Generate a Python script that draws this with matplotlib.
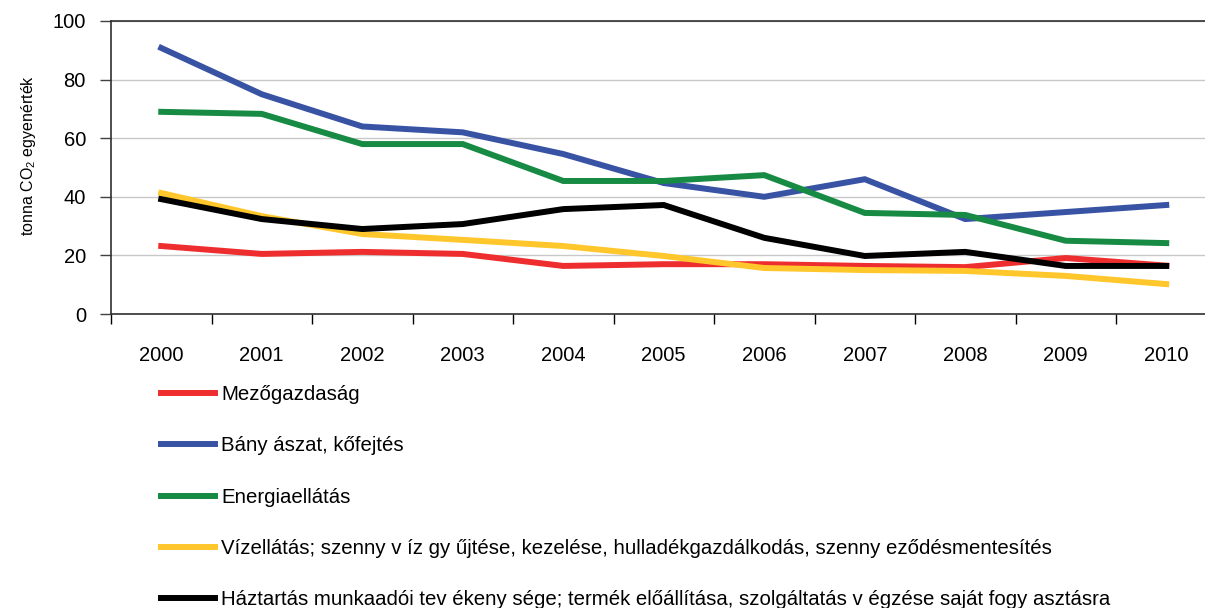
import matplotlib
matplotlib.use("Agg")
import matplotlib.pyplot as plt
import numpy as np

plt.rcParams['font.family'] = ['Liberation Sans', 'DejaVu Sans']
plt.rcParams['mathtext.fontset'] = 'custom'
plt.rcParams['mathtext.rm'] = 'Liberation Sans'
plt.rcParams['mathtext.it'] = 'Liberation Sans'

years = ["2000", "2001", "2002", "2003", "2004", "2005", "2006", "2007", "2008", "2009", "2010"]
mezogazdasag = [23.2, 20.5, 21.2, 20.5, 16.4, 17.0, 17.0, 16.4, 16.0, 19.1, 16.5]
banyaszat = [90.8, 75.0, 64.0, 62.0, 54.6, 44.7, 40.0, 46.0, 32.4, 34.8, 37.2]
energia = [69.0, 68.3, 58.0, 58.0, 45.4, 45.4, 47.4, 34.5, 33.8, 25.0, 24.2]
vizellatas = [41.3, 33.4, 27.3, 25.3, 23.2, 19.8, 15.7, 15.0, 14.7, 13.0, 10.2]
haztartas = [39.2, 32.4, 29.0, 30.7, 35.8, 37.2, 26.0, 19.8, 21.2, 16.4, 16.4]

labels = [
    "Mezőgazdaság",
    "Bány ászat, kőfejtés",
    "Energiaellátás",
    "Vízellátás; szenny v íz gy űjtése, kezelése, hulladékgazdálkodás, szenny eződésmentesítés",
    "Háztartás munkaadói tev ékeny sége; termék előállítása, szolgáltatás v égzése saját fogy asztásra",
]
colors = ["#EE2E2E", "#3953A4", "#178A43", "#FFC72C", "#000000"]
series = [mezogazdasag, banyaszat, energia, vizellatas, haztartas]

fig = plt.figure(figsize=(12.05, 6.08), dpi=100)
ax = fig.add_axes([111 / 1205, 1 - 314 / 608, 1105.5 / 1205, 293 / 608])

x = np.arange(len(years))
for vals, lab, col in zip(series, labels, colors):
    ax.plot(x, vals, color=col, lw=4.3, label=lab, solid_joinstyle='miter')

ax.set_xlim(-0.5, 10.5)
ax.set_ylim(0, 100)
ax.set_yticks([0, 20, 40, 60, 80, 100])
ax.tick_params(axis='y', labelsize=14.5, length=8, width=1, color='#404040', pad=10)
ax.yaxis.grid(True, color='#c8c8c8', lw=1)
ax.set_axisbelow(True)

ax.set_xticks(np.arange(-0.5, 11, 1))
ax.set_xticklabels([])
ax.set_xticks(x, minor=True)
ax.set_xticklabels(years, minor=True, fontsize=14.5)
ax.tick_params(axis='x', which='major', length=7, width=1, color='black')
ax.tick_params(axis='x', which='minor', length=0, pad=23)

for s in ['left', 'bottom', 'top']:
    ax.spines[s].set_color('#303030')
    ax.spines[s].set_linewidth(1.2)
ax.spines['right'].set_visible(False)

ax.set_ylabel(r'tonna CO$_2$ egyenérték', fontsize=11.5)
ax.yaxis.set_label_coords(-0.066, 0.54)

fig.legend(loc='upper left', bbox_to_anchor=(153 / 1205, 1 - 377 / 608),
           frameon=False, fontsize=14.7, handlelength=2.65, handletextpad=0.29,
           labelspacing=1.58, borderaxespad=0)

fig.savefig("out.png", dpi=100)
